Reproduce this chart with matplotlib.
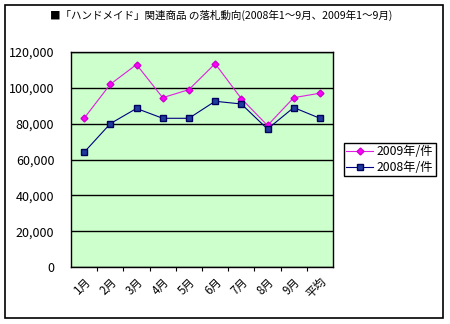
import matplotlib
matplotlib.use("Agg")
import matplotlib.pyplot as plt
from matplotlib.patches import Rectangle
from matplotlib.ticker import FuncFormatter, FixedLocator

plt.rcParams['font.family'] = ['Noto Sans CJK JP', 'DejaVu Sans']

# 落札件数
months = ['1月', '2月', '3月', '4月', '5月', '6月', '7月', '8月', '9月', '平均']
y2009 = [83000, 102000, 113000, 94500, 99000, 113500, 94000, 79000, 94500, 97000]
y2008 = [64000, 80000, 88500, 83000, 83000, 92500, 91000, 77000, 89000, 83000]
yticks = [0, 20000, 40000, 60000, 80000, 100000, 120000]

fig = plt.figure(figsize=(4.5, 3.24), dpi=100)

# 外枠
fig.patches.append(Rectangle((5 / 450, 6 / 324), 438 / 450, 313 / 324,
                             transform=fig.transFigure, fill=False,
                             edgecolor='black', linewidth=1.2))

fig.text(0.492, 0.952, '■「ハンドメイド」関連商品 の落札動向(2008年1～9月、2009年1～9月)',
         ha='center', va='center', fontsize=7.6)

ax = fig.add_axes([71 / 450, 57 / 324, 262 / 450, 215 / 324])
ax.set_facecolor('#CCFFCC')

x = range(len(months))
ax.plot(x, y2009, color='#E020E0', linewidth=0.8, marker='D', markersize=3.5,
        markerfacecolor='#FF00FF', markeredgecolor='#CC00CC', label='2009年/件')
ax.plot(x, y2008, color='#000080', linewidth=0.8, marker='s', markersize=4,
        markerfacecolor='#1F3C9C', markeredgecolor='#000060', label='2008年/件')

ax.set_xlim(-0.5, len(months) - 0.5)
ax.set_ylim(0, 120000)
ax.set_yticks(yticks)
ax.yaxis.set_major_formatter(FuncFormatter(lambda v, p: f'{int(v):,}'))
ax.tick_params(axis='y', length=0, labelsize=9, pad=12)
ax.grid(axis='y', color='black', linewidth=1)
ax.set_axisbelow(True)

# 目盛は区切り位置、ラベルは中央
ax.xaxis.set_major_locator(FixedLocator([i + 0.5 for i in range(len(months) - 1)]))
ax.xaxis.set_minor_locator(FixedLocator(list(x)))
ax.set_xticklabels([])
ax.set_xticklabels(months, minor=True, rotation=45, ha='right', va='top',
                   rotation_mode='anchor', fontsize=8.3)
ax.tick_params(axis='x', which='major', length=3, direction='out', width=0.8)
ax.tick_params(axis='x', which='minor', length=0, pad=6)

for s in ax.spines.values():
    s.set_linewidth(1)

fig.legend(loc='upper left', bbox_to_anchor=(344 / 450, 1 - 143 / 324),
           fontsize=8.8, frameon=True, fancybox=False, edgecolor='black',
           framealpha=1, borderpad=0.2, handlelength=2.2, handletextpad=0.3,
           labelspacing=0.2, borderaxespad=0)

fig.savefig('out.png', dpi=100)
